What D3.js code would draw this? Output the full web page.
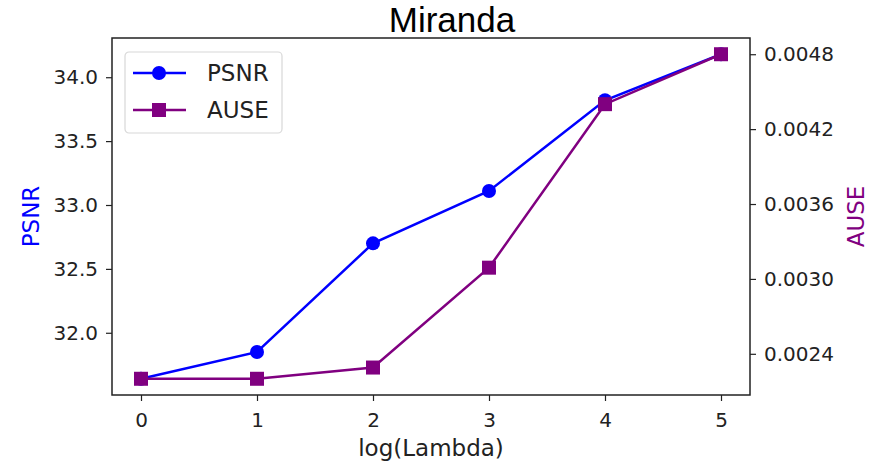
<!DOCTYPE html>
<html>
<head>
<meta charset="utf-8">
<script src="https://cdn.jsdelivr.net/npm/d3@7"></script>
<style>
  html, body { margin: 0; padding: 0; background: #fff; overflow: hidden; }
  svg { display: block; }
  text { font-family: "DejaVu Sans", sans-serif; }
</style>
</head>
<body>
<svg id="chart" width="890" height="465"></svg>
<script>
// values
const lambdas = [0, 1, 2, 3, 4, 5];
const psnr = [31.64, 31.85, 32.70, 33.11, 33.82, 34.18];
const ause = [0.0022, 0.0022, 0.00229, 0.00309, 0.0044, 0.0048];
const psnrTicks = [32.0, 32.5, 33.0, 33.5, 34.0];
const auseTicks = [0.0024, 0.0030, 0.0036, 0.0042, 0.0048];

const svg = d3.select("#chart");
const margin = { top: 38, right: 140, bottom: 70, left: 112 };
const width = +svg.attr("width");
const height = +svg.attr("height");
const innerWidth = width - margin.left - margin.right;
const innerHeight = height - margin.top - margin.bottom;

const blue = "#0000ff";
const purple = "#800080";

// matplotlib-style 5% padding
function padded(vals) {
  const [lo, hi] = d3.extent(vals);
  const p = (hi - lo) * 0.05;
  return [lo - p, hi + p];
}

const x = d3.scaleLinear().domain(padded(lambdas)).range([0, innerWidth]);
const yL = d3.scaleLinear().domain(padded(psnr)).range([innerHeight, 0]);
const yR = d3.scaleLinear().domain(padded(ause)).range([innerHeight, 0]);

const chart = svg.append("g")
  .attr("transform", `translate(${margin.left}, ${margin.top})`);

function styleAxis(g) {
  g.select(".domain").remove();
  g.selectAll(".tick line").attr("stroke", "#222").attr("stroke-width", 1.2);
  g.selectAll(".tick text").attr("fill", "#222").attr("font-size", "20px")
    .attr("font-family", "DejaVu Sans");
}

chart.append("g")
  .attr("transform", `translate(0, ${innerHeight})`)
  .call(d3.axisBottom(x).tickValues(lambdas).tickFormat(d3.format("d")).tickSize(6).tickPadding(12))
  .call(styleAxis);

chart.append("g")
  .call(d3.axisLeft(yL).tickValues(psnrTicks).tickFormat(d3.format(".1f")).tickSize(6).tickPadding(8))
  .call(styleAxis);

chart.append("g")
  .attr("transform", `translate(${innerWidth}, 0)`)
  .call(d3.axisRight(yR).tickValues(auseTicks).tickFormat(d3.format(".4f")).tickSize(6).tickPadding(8))
  .call(styleAxis);

// PSNR line
chart.append("path")
  .datum(lambdas.map((l, i) => [l, psnr[i]]))
  .attr("fill", "none")
  .attr("stroke", blue)
  .attr("stroke-width", 2.5)
  .attr("d", d3.line().x(d => x(d[0])).y(d => yL(d[1])));

chart.selectAll(".psnr-dot")
  .data(lambdas.map((l, i) => [l, psnr[i]]))
  .enter()
  .append("circle")
  .attr("class", "psnr-dot")
  .attr("cx", d => x(d[0]))
  .attr("cy", d => yL(d[1]))
  .attr("r", 7)
  .attr("fill", blue);

// AUSE line (twin axis)
chart.append("path")
  .datum(lambdas.map((l, i) => [l, ause[i]]))
  .attr("fill", "none")
  .attr("stroke", purple)
  .attr("stroke-width", 2.5)
  .attr("d", d3.line().x(d => x(d[0])).y(d => yR(d[1])));

chart.selectAll(".ause-dot")
  .data(lambdas.map((l, i) => [l, ause[i]]))
  .enter()
  .append("rect")
  .attr("class", "ause-dot")
  .attr("x", d => x(d[0]) - 7)
  .attr("y", d => yR(d[1]) - 7)
  .attr("width", 14)
  .attr("height", 14)
  .attr("fill", purple);

// frame
chart.append("rect")
  .attr("width", innerWidth)
  .attr("height", innerHeight)
  .attr("fill", "none")
  .attr("stroke", "#222")
  .attr("stroke-width", 1.5);

// title and axis labels
svg.append("text")
  .attr("x", 452)
  .attr("y", 32)
  .attr("text-anchor", "middle")
  .attr("font-size", "35px")
  .attr("fill", "#000")
  .style("font-family", "'Liberation Sans', Arial, sans-serif")
  .text("Miranda");

svg.append("text")
  .attr("x", margin.left + innerWidth / 2)
  .attr("y", 456)
  .attr("text-anchor", "middle")
  .attr("font-size", "23px")
  .attr("fill", "#222")
  .text("log(Lambda)");

svg.append("text")
  .attr("transform", `translate(39, ${margin.top + innerHeight / 2}) rotate(-90)`)
  .attr("text-anchor", "middle")
  .attr("font-size", "23px")
  .attr("fill", blue)
  .text("PSNR");

svg.append("text")
  .attr("transform", `translate(864, ${margin.top + innerHeight / 2}) rotate(-90)`)
  .attr("text-anchor", "middle")
  .attr("font-size", "23px")
  .attr("fill", purple)
  .text("AUSE");

// legend
const legendData = [
  { label: "PSNR", color: blue, shape: "circle" },
  { label: "AUSE", color: purple, shape: "square" }
];

const legend = svg.append("g").attr("transform", "translate(125, 52)");

legend.append("rect")
  .attr("width", 157)
  .attr("height", 81)
  .attr("rx", 4)
  .attr("fill", "#fff")
  .attr("fill-opacity", 0.8)
  .attr("stroke", "#d8d8d8")
  .attr("stroke-width", 1.2);

legend.selectAll("g")
  .data(legendData)
  .enter()
  .append("g")
  .attr("transform", (d, i) => `translate(0, ${21 + i * 37})`)
  .each(function (d) {
    const g = d3.select(this);
    g.append("line")
      .attr("x1", 8).attr("x2", 61)
      .attr("stroke", d.color)
      .attr("stroke-width", 2.5);
    if (d.shape === "circle") {
      g.append("circle").attr("cx", 34).attr("r", 7).attr("fill", d.color);
    } else {
      g.append("rect").attr("x", 27).attr("y", -7)
        .attr("width", 14).attr("height", 14).attr("fill", d.color);
    }
    g.append("text")
      .attr("x", 82)
      .attr("y", 8)
      .attr("font-size", "23px")
      .attr("fill", "#222")
      .text(d.label);
  });
</script>
</body>
</html>
